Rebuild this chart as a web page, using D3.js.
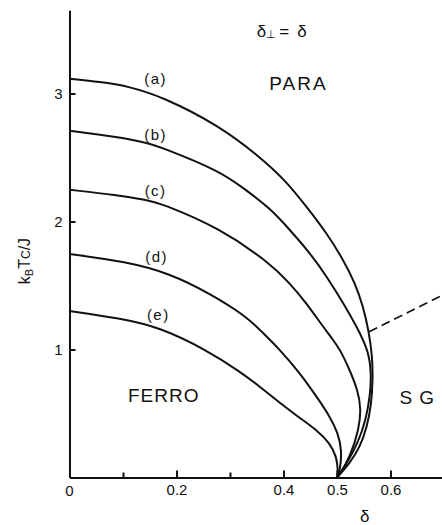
<!DOCTYPE html>
<html><head><meta charset="utf-8">
<script src="https://cdn.jsdelivr.net/npm/d3@7"></script>
<style>
html,body{margin:0;padding:0;background:#fff;}
svg{display:block;font-family:"Liberation Sans",Arial,sans-serif;}
</style></head>
<body>
<svg id="chart" width="442" height="525"></svg>
<script>
// ---- data (delta, kB*Tc/J) ----
const curveA = [[0,3.115],[0.057,3.090],[0.108,3.059],[0.175,2.973],[0.281,2.746],[0.356,2.504],[0.403,2.324],[0.443,2.116],[0.481,1.908],[0.512,1.699],[0.534,1.517],[0.549,1.334],[0.559,1.152],[0.566,0.950],[0.567,0.762],[0.564,0.566],[0.556,0.395],[0.543,0.238],[0.524,0.113],[0.5,0]];
const curveB = [[0,2.709],[0.088,2.662],[0.145,2.615],[0.169,2.584],[0.281,2.395],[0.326,2.258],[0.375,2.103],[0.412,1.934],[0.450,1.752],[0.481,1.569],[0.512,1.361],[0.537,1.178],[0.560,0.980],[0.564,0.801],[0.562,0.645],[0.554,0.449],[0.539,0.270],[0.521,0.129],[0.5,0]];
const curveC = [[0,2.248],[0.089,2.207],[0.145,2.168],[0.169,2.145],[0.281,1.949],[0.375,1.673],[0.412,1.517],[0.443,1.361],[0.474,1.178],[0.493,1.074],[0.506,0.996],[0.521,0.866],[0.539,0.684],[0.545,0.535],[0.541,0.379],[0.526,0.176],[0.504,0.012],[0.5,0]];
const curveD = [[0,1.746],[0.106,1.686],[0.187,1.595],[0.262,1.439],[0.331,1.257],[0.356,1.152],[0.394,0.996],[0.431,0.814],[0.462,0.631],[0.487,0.475],[0.502,0.345],[0.509,0.215],[0.506,0.059],[0.5,0]];
const curveE = [[0,1.301],[0.094,1.244],[0.169,1.174],[0.256,0.996],[0.319,0.827],[0.356,0.709],[0.394,0.580],[0.431,0.463],[0.462,0.371],[0.487,0.267],[0.499,0.163],[0.502,0.059],[0.5,0]];
const dashedLine = [[0.560,1.139],[0.7,1.43]];

const curveNames = ["(a)","(b)","(c)","(d)","(e)"];
const curveLabelPos = [[0.161,3.074],[0.161,2.637],[0.161,2.199],[0.163,1.684],[0.166,1.230]];
const regionNames = ["PARA","FERRO","S G"];
const regionPos = [[0.428,3.027],[0.176,0.592],[0.650,0.574]];

const xMajorTicks = [0.2,0.4,0.5,0.6];
const xMinorTicks = [0.1,0.3];
const xTickLabels = ["0.2","0.4","0.5","0.6"];
const yTicks = [1,2,3];
const yTickLabels = ["1","2","3"];

// ---- scales ----
const svg = d3.select("#chart");
const x = d3.scaleLinear().domain([0,0.7]).range([69.5,444]);
const y = d3.scaleLinear().domain([0,3.65]).range([477.5,10.3]);

// ---- axes ----
const xAxisMajor = d3.axisBottom(x).tickValues(xMajorTicks)
  .tickFormat((d,i)=>xTickLabels[i]).tickSizeInner(-7).tickSizeOuter(0).tickPadding(7);
const xAxisMinor = d3.axisBottom(x).tickValues(xMinorTicks)
  .tickFormat("").tickSizeInner(-5).tickSizeOuter(0);
const yAxis = d3.axisLeft(y).tickValues(yTicks)
  .tickFormat((d,i)=>yTickLabels[i]).tickSizeInner(-6).tickSizeOuter(0).tickPadding(7);

function style(g){
  g.select(".domain").attr("stroke","#111").attr("stroke-width",2);
  g.selectAll(".tick line").attr("stroke","#111").attr("stroke-width",2);
  g.selectAll(".tick text").attr("fill","#111").attr("font-size",15)
    .attr("font-family","Liberation Sans, Arial, sans-serif");
}
svg.append("g").attr("transform",`translate(0,${y(0)})`).call(xAxisMinor).call(style);
svg.append("g").attr("transform",`translate(0,${y(0)})`).call(xAxisMajor).call(style);
svg.append("g").attr("transform",`translate(${x(0)},0)`).call(yAxis).call(style);
// "0" label at origin
svg.append("text").attr("x",x(0)).attr("y",y(0)+18).attr("text-anchor","middle")
  .attr("font-size",15).attr("fill","#111").text("0");

// ---- curves ----
const line = d3.line().x(d=>x(d[0])).y(d=>y(d[1])).curve(d3.curveBasis);
[curveA,curveB,curveC,curveD,curveE].forEach(c=>{
  svg.append("path").attr("d",line(c)).attr("fill","none")
    .attr("stroke","#111").attr("stroke-width",2);
});
svg.append("path").attr("d",d3.line().x(d=>x(d[0])).y(d=>y(d[1]))(dashedLine))
  .attr("fill","none").attr("stroke","#111").attr("stroke-width",1.6)
  .attr("stroke-dasharray","9,5");

// ---- labels ----
curveNames.forEach((n,i)=>{
  svg.append("text").attr("x",x(curveLabelPos[i][0])).attr("y",y(curveLabelPos[i][1]))
    .attr("text-anchor","middle").attr("font-size",15).attr("letter-spacing",1.5)
    .attr("fill","#111").text(n);
});
regionNames.forEach((n,i)=>{
  svg.append("text").attr("x",x(regionPos[i][0])).attr("y",y(regionPos[i][1]))
    .attr("text-anchor","middle").attr("font-size",19).attr("letter-spacing",n==="PARA"?2:1)
    .attr("fill","#111").text(n);
});

// top annotation δ⊥ = δ
const t = svg.append("text").attr("x",x(0.350)).attr("y",y(3.441))
  .attr("font-size",17).attr("fill","#111");
t.append("tspan").text("δ");
t.append("tspan").attr("font-size",11).attr("dy",1).text("⊥");
t.append("tspan").attr("dy",-1).attr("dx",3).text("=");
t.append("tspan").attr("dx",8).text("δ");

// x axis label
svg.append("text").attr("x",x(0.552)).attr("y",522).attr("text-anchor","middle")
  .attr("font-size",17).attr("fill","#111").text("δ");

// y axis label
const yl = svg.append("text").attr("transform","translate(30,261) rotate(-90)")
  .attr("text-anchor","middle").attr("font-size",16).attr("fill","#111");
yl.append("tspan").text("k");
yl.append("tspan").attr("font-size",11).attr("dy",3).text("B");
yl.append("tspan").attr("dy",-3).text("T");
yl.append("tspan").attr("font-size",12).text("C");
yl.append("tspan").text("/J");
</script>
</body></html>
